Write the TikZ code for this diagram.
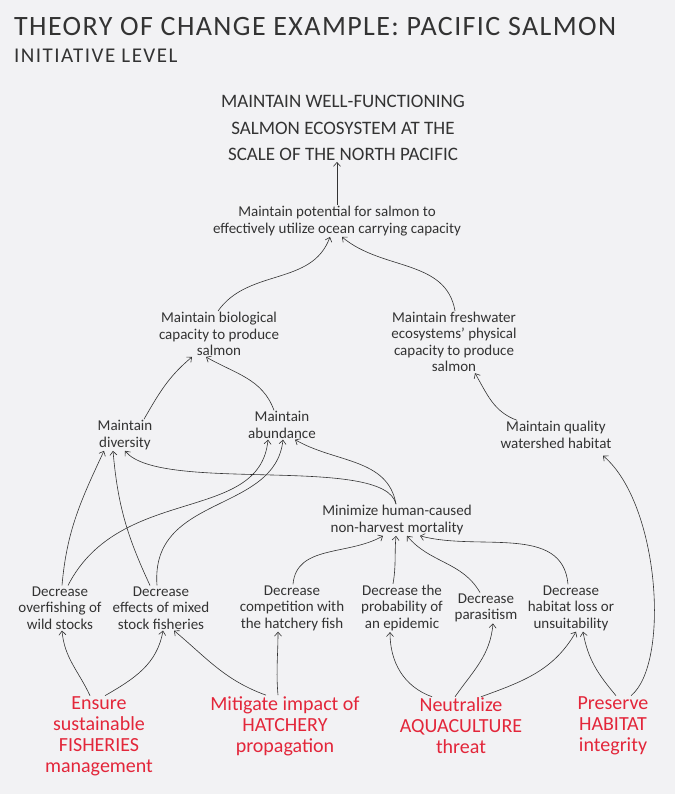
\documentclass[tikz,border=0pt]{standalone}
\usepackage{fontspec}
\setmainfont{Carlito}
\usetikzlibrary{arrows.meta}
\definecolor{bggray}{HTML}{F2F2F4}
\definecolor{ink}{HTML}{333333}
\definecolor{salmonred}{HTML}{E3263A}
\tikzset{
  txt/.style={align=center,text=ink,inner sep=1pt,font=\fontsize{15}{16.5}\selectfont},
  goaltxt/.style={align=center,text=ink,inner sep=1pt,font=\fontsize{19}{26.5}\selectfont},
  redtxt/.style={align=center,text=salmonred,inner sep=1pt,font=\fontsize{20}{21}\selectfont},
  link/.style={->,ink,line width=0.6pt},
}
\begin{document}
\begin{tikzpicture}[x=1pt,y=1pt,>={Straight Barb[length=4pt,width=7pt]}]
    % Fondo
    \fill[bggray] (0,0) rectangle (675,794);
    \useasboundingbox (0,0) rectangle (675,794);

    % Titulo
    \node[anchor=base west,text=ink,inner sep=0pt,font=\fontsize{28}{32}\selectfont\addfontfeature{LetterSpace=5}] (title) at (14,758) {THEORY OF CHANGE EXAMPLE: PACIFIC SALMON};
    \node[anchor=base west,text=ink,inner sep=0pt,font=\fontsize{21}{24}\selectfont\addfontfeature{LetterSpace=7}] (sub) at (14,731) {INITIATIVE LEVEL};

    % Meta y resultados
    \node[goaltxt] (goal) at (343,666) {MAINTAIN WELL-FUNCTIONING\\SALMON ECOSYSTEM AT THE\\SCALE OF THE NORTH PACIFIC};
    \node[txt] (pot) at (337,573) {Maintain potential for salmon to\\effectively utilize ocean carrying capacity};
    \node[txt] (bio) at (219,460) {Maintain biological\\capacity to produce\\salmon};
    \node[txt] (fresh) at (454,452) {Maintain freshwater\\ecosystems' physical\\capacity to produce\\salmon};
    \node[txt] (div) at (125,359) {Maintain\\diversity};
    \node[txt] (abund) at (282,369) {Maintain\\abundance};
    \node[txt] (qual) at (556,359) {Maintain quality\\watershed habitat};
    \node[txt] (minim) at (397,274) {Minimize human-caused\\non-harvest mortality};

    % Fila de acciones
    \node[txt] (overf) at (60,186) {Decrease\\overfishing of\\wild stocks};
    \node[txt] (mixed) at (161,186) {Decrease\\effects of mixed\\stock fisheries};
    \node[txt] (comp) at (292,186) {Decrease\\competition with\\the hatchery fish};
    \node[txt] (epid) at (402,186) {Decrease the\\probability of\\an epidemic};
    \node[txt] (para) at (486,186) {Decrease\\parasitism};
    \node[txt] (loss) at (571,186) {Decrease\\habitat loss or\\unsuitability};

    % Estrategias
    \node[redtxt] (ensure) at (99,57.5) {Ensure\\sustainable\\FISHERIES\\management};
    \node[redtxt] (mitig) at (285,68) {Mitigate impact of\\HATCHERY\\propagation};
    \node[redtxt] (neut) at (461,68) {Neutralize\\AQUACULTURE\\threat};
    \node[redtxt] (pres) at (613,68) {Preserve\\HABITAT\\integrity};

    % Flechas superiores
    \draw[link] (pot.north) -- ([xshift=-6pt]goal.south);
    \draw[link] ([xshift=-1pt]bio.north) to[out=55,in=-110] ([xshift=-7pt]pot.south);
    \draw[link] ([xshift=1pt]fresh.north) to[out=100,in=-40] ([xshift=5pt]pot.south);
    \draw[link] ([xshift=19pt]div.north) to[out=60,in=-140] ([xshift=-27pt]bio.south);
    \draw[link] ([xshift=-8pt]abund.north) to[out=110,in=-30] ([xshift=-13pt]bio.south);
    \draw[link] ([xshift=-39pt]qual.north) to[out=160,in=-60] ([xshift=21pt]fresh.south);

    % Mortalidad
    \draw[link] ([xshift=-1pt]minim.north) to[out=100,in=-30] ([xshift=13pt]abund.south);
    \draw[link] ([xshift=-1pt]minim.north) .. controls (385,340) and (160,300) .. (div.south);

    % Acciones hacia resultados
    \draw[link] ([xshift=2pt]overf.north) to[out=85,in=-115] ([xshift=-21pt]div.south);
    \draw[link] ([xshift=8pt]overf.north) .. controls (120,310) and (260,270) .. ([xshift=-14pt]abund.south);
    \draw[link] ([xshift=-11pt]mixed.north) to[out=115,in=-85] ([xshift=-12pt]div.south);
    \draw[link] ([xshift=-4pt]mixed.north) .. controls (150,300) and (275,280) .. ([xshift=1pt]abund.south);
    \draw[link] ([xshift=1pt]comp.north) to[out=85,in=-150] ([xshift=-14pt]minim.south);
    \draw[link] ([xshift=-9pt]epid.north) to[out=80,in=-95] ([xshift=-1pt]minim.south);
    \draw[link] ([xshift=-6pt]para.north) to[out=120,in=-50] ([xshift=10pt]minim.south);
    \draw[link] ([xshift=-3pt]loss.north) to[out=95,in=-15] ([xshift=23pt]minim.south);

    % Estrategias hacia acciones
    \draw[link] ([xshift=-9pt]ensure.north) to[out=115,in=-85] ([xshift=2pt]overf.south);
    \draw[link] ([xshift=6pt]ensure.north) to[out=30,in=-100] ([xshift=2pt]mixed.south);
    \draw[link] ([xshift=-19pt]mitig.north) to[out=160,in=-40] ([xshift=13pt]mixed.south);
    \draw[link] ([xshift=-7pt]mitig.north) to[out=95,in=-90] ([xshift=-14pt]comp.south);
    \draw[link] ([xshift=-29pt]neut.north) to[out=160,in=-90] ([xshift=-12pt]epid.south);
    \draw[link] ([xshift=-6pt]neut.north) to[out=55,in=-95] ([xshift=7pt]para.south);
    \draw[link] ([xshift=20pt]neut.north) to[out=20,in=-120] ([xshift=5pt]loss.south);
    \draw[link] ([xshift=3pt]pres.north) to[out=130,in=-80] ([xshift=12pt]loss.south);
    \draw[link] ([xshift=18pt]pres.north) .. controls (670,130) and (660,290) .. ([xshift=47pt,yshift=-6pt]qual.south);
\end{tikzpicture}
\end{document}
